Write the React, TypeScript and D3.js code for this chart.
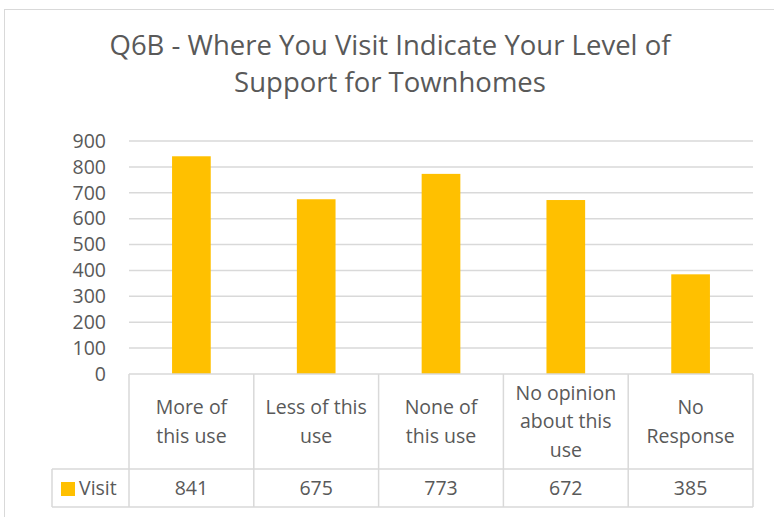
import React from "react";
import * as d3 from "d3";

const categories: string[][] = [
  ["More of", "this use"],
  ["Less of this", "use"],
  ["None of", "this use"],
  ["No opinion", "about this", "use"],
  ["No", "Response"],
];
const visitValues: number[] = [841, 675, 773, 672, 385];
const yTicks: number[] = [0, 100, 200, 300, 400, 500, 600, 700, 800, 900];
const seriesName = "Visit";
const titleLines = ["Q6B - Where You Visit Indicate Your Level of", "Support for Townhomes"];

export default function App() {
  const W = 774, H = 517;
  const left = 129, right = 753, top = 141, bottom = 374;
  const rowSplit = 469, tableBottom = 507, legendLeft = 52;
  const x = d3.scaleBand<number>().domain(d3.range(categories.length)).range([left, right]).paddingInner(0).paddingOuter(0);
  const y = d3.scaleLinear().domain([0, 900]).range([bottom, top]);
  const bw = x.bandwidth() * 0.31;
  const font = "'Open Sans', sans-serif";
  const grid = "#d9d9d9";
  const txt = "#595959";
  const fs = 19.5;
  return (
    <svg width={W} height={H} style={{ position: "absolute", left: 0, top: 0, background: "#fff" }}>
      <rect x={4.5} y={9.5} width={W + 10} height={H + 10} fill="#fff" stroke={grid} strokeWidth={1} />
      {titleLines.map((t, i) => (
        <text key={i} x={390} y={55 + i * 37} textAnchor="middle" fontFamily={font} fontSize={27.5} fill={txt}>{t}</text>
      ))}
      {yTicks.map((t) => (
        <g key={t}>
          {t > 0 && <line x1={left} x2={right} y1={y(t)} y2={y(t)} stroke={grid} strokeWidth={1.5} />}
          <text x={106} y={y(t)} dy="0.35em" textAnchor="end" fontFamily={font} fontSize={fs} fill={txt}>{t}</text>
        </g>
      ))}
      {visitValues.map((v, i) => (
        <rect key={i} x={x(i)! + x.bandwidth() / 2 - bw / 2} y={y(v)} width={bw} height={y(0) - y(v)} fill="#FFC000" />
      ))}
      <line x1={left} x2={right} y1={bottom} y2={bottom} stroke={grid} strokeWidth={1.5} />
      <line x1={legendLeft} x2={right} y1={rowSplit} y2={rowSplit} stroke={grid} strokeWidth={1.5} />
      <line x1={legendLeft} x2={right} y1={tableBottom} y2={tableBottom} stroke={grid} strokeWidth={1.5} />
      <line x1={legendLeft} x2={legendLeft} y1={rowSplit} y2={tableBottom} stroke={grid} strokeWidth={1.5} />
      {d3.range(categories.length + 1).map((i) => {
        const xx = i < categories.length ? x(i)! : right;
        return <line key={i} x1={xx} x2={xx} y1={bottom} y2={tableBottom} stroke={grid} strokeWidth={1.5} />;
      })}
      {categories.map((lines, i) => {
        const cx = x(i)! + x.bandwidth() / 2;
        const mid = (bottom + rowSplit) / 2;
        const lh = 28.5;
        const start = mid - ((lines.length - 1) * lh) / 2;
        return (
          <g key={i}>
            {lines.map((l, j) => (
              <text key={j} x={cx} y={start + j * lh} dy="0.35em" textAnchor="middle" fontFamily={font} fontSize={fs} fill={txt}>{l}</text>
            ))}
            <text x={cx} y={(rowSplit + tableBottom) / 2} dy="0.35em" textAnchor="middle" fontFamily={font} fontSize={fs} fill={txt}>{visitValues[i]}</text>
          </g>
        );
      })}
      <rect x={61} y={482} width={14} height={14} fill="#FFC000" />
      <text x={79} y={(rowSplit + tableBottom) / 2} dy="0.35em" fontFamily={font} fontSize={fs} fill={txt}>{seriesName}</text>
    </svg>
  );
}
